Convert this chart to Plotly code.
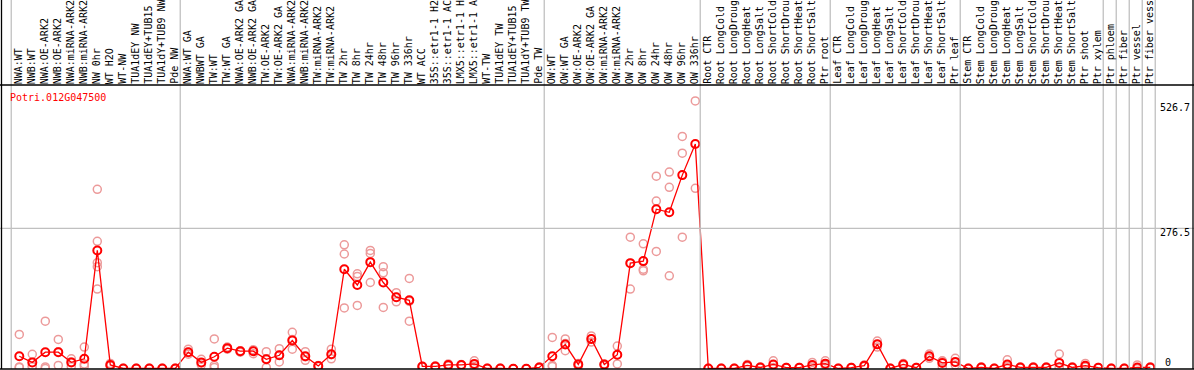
import plotly.graph_objects as go

categories = [
    "NWA:WT", "NWB:WT", "NWA:OE-ARK2", "NWB:OE-ARK2", "NWA:miRNA-ARK2", "NWB:miRNA-ARK2",
    "NW 0hr", "WT H2O", "WT-NW", "TUA1dEY NW", "TUA1dEY+TUB15 NW", "TUA1dY+TUB9 NW", "Pde NW",
    "NWA:WT GA", "NWBWT GA", "TW:WT", "TW:WT GA", "NWA:OE-ARK2 GA", "NWB:OE-ARK2 GA",
    "TW:OE-ARK2", "TW:OE-ARK2 GA", "NWA:miRNA-ARK2", "NWB:miRNA-ARK2", "TW:miRNA-ARK2",
    "TW:miRNA-ARK2", "TW 2hr", "TW 8hr", "TW 24hr", "TW 48hr", "TW 96hr", "TW 336hr",
    "WT ACC", "35S::etr1-1 H2O", "35S::etr1-1 ACC", "LMX5::etr1-1 H2O", "LMX5::etr1-1 ACC",
    "WT-TW", "TUA1dEY TW", "TUA1dEY+TUB15 TW", "TUA1dY+TUB9 TW", "Pde TW",
    "OW:WT", "OW:WT GA", "OW:OE-ARK2", "OW:OE-ARK2 GA", "OW:miRNA-ARK2", "OW:miRNA-ARK2",
    "OW 2hr", "OW 8hr", "OW 24hr", "OW 48hr", "OW 96hr", "OW 336hr",
    "Root CTR", "Root LongCold", "Root LongDrought", "Root LongHeat", "Root LongSalt",
    "Root ShortCold", "Root ShortDrought", "Root ShortHeat", "Root ShortSalt", "Ptr root",
    "Leaf CTR", "Leaf LongCold", "Leaf LongDrought", "Leaf LongHeat", "Leaf LongSalt",
    "Leaf ShortCold", "Leaf ShortDrought", "Leaf ShortHeat", "Leaf ShortSalt", "Ptr leaf",
    "Stem CTR", "Stem LongCold", "Stem LongDrought", "Stem LongHeat", "Stem LongSalt",
    "Stem ShortCold", "Stem ShortDrought", "Stem ShortHeat", "Stem ShortSalt", "Ptr shoot",
    "Ptr xylem", "Ptr phloem", "Ptr fiber", "Ptr vessel", "Ptr fiber vessel",
]

means = [
    25, 13, 33, 33, 13, 20, 233, 8, 1, 1, 1, 1, 1,
    33, 13, 24, 41, 35, 35, 19, 27, 56, 25, 6, 29, 196, 165, 210, 170, 141, 135,
    5, 5, 8, 8, 10, 1, 1, 0.5, 0.5, 3,
    25, 48, 9, 59, 9, 28, 208, 212, 314, 308, 381, 442,
    1, 1, 1, 7, 3, 9, 2.6, 2.6, 8, 10.5,
    1, 2.6, 6.5, 48.5, 1, 9, 2.6, 25, 12, 14,
    1, 3, 1, 9, 3, 3, 3, 12, 3, 6.5,
    2.6, 1, 1, 3, 3,
]

replicates = [
    [68, 4, 3], [29, 5, 5], [94, 4, 1], [58, 34, 7], [20, 14, 5], [43, 10, 6],
    [353, 251, 209, 201, 157], [11, 7, 6], [0.5, 1, 1.5], [0.5, 1, 1.5], [0.5, 1, 1.5],
    [0.5, 1, 1.5], [0.5, 1, 1.5],
    [39, 33, 29], [19, 12, 8], [59, 7, 3], [43, 41, 39], [36, 35, 33], [38, 36, 30],
    [34, 20, 3], [40, 27, 14], [72, 58, 39], [34, 24, 17], [7, 6, 5], [39, 28, 20],
    [244, 226, 120], [187, 182, 125], [233, 227, 170], [201, 189, 121], [150, 141, 132],
    [178, 133, 94],
    [5, 4, 5], [6, 5, 4], [10, 8, 6], [9, 8, 7], [16, 9, 5], [0.5, 1, 1.5], [0.5, 1, 1.5],
    [0.3, 0.5, 0.7], [0.3, 0.5, 0.7], [4, 3, 2],
    [62, 7, 5], [59, 50, 36], [11, 9, 6], [65, 59, 53], [10, 9, 7], [45, 28, 10],
    [259, 208, 157], [246, 196, 193], [379, 330, 231], [387, 357, 183], [457, 424, 259],
    [526.7, 355],
    [0.5, 1, 1.5], [0.5, 1, 1.5], [0.5, 1, 1.5], [9, 7, 5], [2, 3, 4], [16, 8, 3],
    [2, 2.6, 3], [2, 2.6, 3], [13, 7, 4], [16, 9, 7],
    [0.5, 1, 1.5], [2, 2.6, 3], [8, 6.5, 5], [55, 48, 43], [0.5, 1, 1.5], [11, 9, 7],
    [2, 2.6, 3], [29.5, 25, 21], [16, 15, 4.5], [21, 13, 8],
    [0.5, 1, 1.5], [2, 3, 4], [0.5, 1, 1.5], [18, 6, 3], [2, 3, 4], [2, 3, 4], [2, 3, 4],
    [29.5, 4, 2], [2, 3, 4], [11, 5, 4],
    [2, 2.6, 3], [0.5, 1, 1.5], [0.5, 1, 1.5], [8, 1, 1], [2, 3, 4],
]

gene = "Potri.012G047500"
y_ticks = [526.7, 276.5, 0]
group_last = [-1, 12, 40, 52, 62, 72, 83, 84, 85, 86, 87]

# ---- geometry ----
W, H = 1194, 370
ML, MR, MT, MB = 1, 1, 85, 1
PW = W - ML - MR
PH = H - MT - MB
XPX0, XSTEP = 19.3, 13.0            # pixel of first category, pixels per category
xmin = -(XPX0 - ML) / XSTEP
xmax = xmin + PW / XSTEP
YSCALE = 0.5089                      # pixels per unit
ymin = 0.0
ymax = PH / YSCALE

def px_to_paper_x(px):
    return (px - ML) / PW

def px_to_paper_y(py):
    return (H - MB - py) / PH

xs = list(range(len(categories)))
rep_x, rep_y = [], []
for i, reps in enumerate(replicates):
    for v in reps:
        rep_x.append(i)
        rep_y.append(v)

fig = go.Figure()
fig.add_trace(go.Scatter(
    x=rep_x, y=rep_y, mode="markers",
    marker=dict(symbol="circle-open", size=8, color="#ec9a9a", line=dict(width=1.5, color="#ec9a9a")),
    hoverinfo="skip", showlegend=False,
))
fig.add_trace(go.Scatter(
    x=xs, y=means, mode="lines+markers",
    line=dict(color="#ff0000", width=1.3),
    marker=dict(symbol="circle-open", size=8, color="#ff0000", line=dict(width=2, color="#ff0000")),
    showlegend=False,
))

shapes = []
top_paper = px_to_paper_y(-2)
# group separators (gray)
for g in group_last:
    xv = g + 0.38
    shapes.append(dict(type="line", xref="x", yref="paper", x0=xv, x1=xv, y0=0, y1=top_paper,
                       line=dict(color="#c0c0c0", width=1.3)))
# horizontal gridline at middle tick
shapes.append(dict(type="line", xref="paper", yref="y", x0=-0.01, x1=1.01, y0=276.5, y1=276.5,
                   line=dict(color="#c0c0c0", width=1.3)))
# black frame lines
shapes.append(dict(type="line", xref="paper", yref="paper", x0=-0.01, x1=1.01, y0=1, y1=1,
                   line=dict(color="black", width=1.3)))
shapes.append(dict(type="line", xref="paper", yref="paper", x0=-0.01, x1=1.01, y0=0, y1=0,
                   line=dict(color="black", width=1.3)))
shapes.append(dict(type="line", xref="paper", yref="paper", x0=px_to_paper_x(1.5), x1=px_to_paper_x(1.5),
                   y0=0, y1=top_paper, line=dict(color="black", width=1.3)))
shapes.append(dict(type="line", xref="paper", yref="paper", x0=px_to_paper_x(1193), x1=px_to_paper_x(1193),
                   y0=0, y1=top_paper, line=dict(color="black", width=1.3)))

font = "DejaVu Sans Mono, monospace"
annotations = []
for i, lab in enumerate(categories):
    annotations.append(dict(
        x=i, xref="x", y=1, yref="paper", xanchor="center", yanchor="bottom",
        text=lab, textangle=-90, showarrow=False, xshift=-1, yshift=-1,
        font=dict(family=font, size=10, color="black"),
    ))
annotations.append(dict(
    x=px_to_paper_x(8), xref="paper", y=px_to_paper_y(97), yref="paper",
    xanchor="left", yanchor="middle", text=gene, showarrow=False,
    font=dict(family=font, size=10, color="#ff0000"),
))
tick_pos = {526.7: (1158, 107), 276.5: (1158, 232), 0: (1163, 362)}
for v in y_ticks:
    px, py = tick_pos[v]
    annotations.append(dict(
        x=px_to_paper_x(px), xref="paper", y=px_to_paper_y(py), yref="paper",
        xanchor="left", yanchor="middle", text=f"{v:g}" if v != 0 else "0", showarrow=False,
        font=dict(family=font, size=10, color="black"),
    ))

fig.update_layout(
    width=W, height=H,
    margin=dict(l=ML, r=MR, t=MT, b=MB, pad=0),
    paper_bgcolor="white", plot_bgcolor="white",
    xaxis=dict(range=[xmin, xmax], visible=False, fixedrange=True),
    yaxis=dict(range=[ymin, ymax], visible=False, fixedrange=True),
    shapes=shapes, annotations=annotations,
    showlegend=False,
)

fig.write_html(
    "out.html",
    config={"displayModeBar": False},
    post_script="document.body.style.margin='0';document.body.style.overflow='hidden';",
)
